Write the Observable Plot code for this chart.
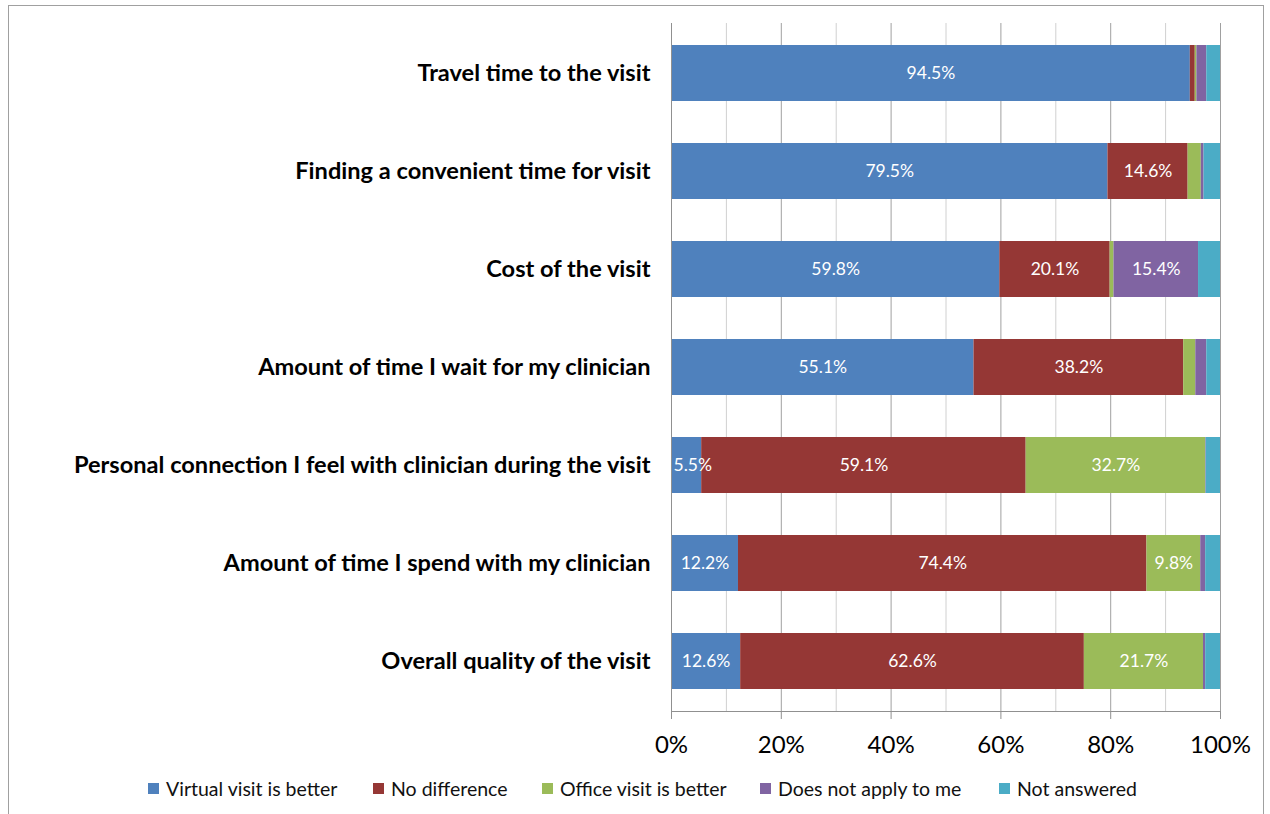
<!DOCTYPE html>
<html>
<head>
<meta charset="utf-8">
<script src="https://cdn.jsdelivr.net/npm/d3@7"></script>
<script src="https://cdn.jsdelivr.net/npm/@observablehq/plot@0.6"></script>
<style>
  html, body { margin: 0; padding: 0; background: #fff; }
  body { width: 1270px; height: 814px; position: relative; overflow: hidden; font-family: Lato, "Open Sans", sans-serif; }
  #frame { position: absolute; left: 8px; top: 5px; width: 1256px; height: 820px; border: 1px solid #a0a0a0; box-sizing: border-box; }
  #chart { position: absolute; left: 0; top: 0; }
  #legend { position: absolute; left: 0; top: 777px; width: 1270px; font-size: 19.5px; color: #111; }
  .item { display: flex; align-items: center; position: absolute; white-space: nowrap; }
  .sw { width: 11px; height: 11px; margin-right: 7px; }
</style>
</head>
<body>
<div id="frame"></div>
<div id="chart"></div>
<div id="legend"></div>
<script>
const categories = [
  "Travel time to the visit",
  "Finding a convenient time for visit",
  "Cost of the visit",
  "Amount of time I wait for my clinician",
  "Personal connection I feel with clinician during the visit",
  "Amount of time I spend with my clinician",
  "Overall quality of the visit"
];
const seriesNames = ["Virtual visit is better", "No difference", "Office visit is better", "Does not apply to me", "Not answered"];
const seriesColors = ["#4F81BD", "#953735", "#9BBB59", "#8064A2", "#4BACC6"];
const virtualBetter = [94.5, 79.5, 59.8, 55.1, 5.5, 12.2, 12.6];
const noDifference = [0.9, 14.6, 20.1, 38.2, 59.1, 74.4, 62.6];
const officeBetter = [0.3, 2.4, 0.7, 2.2, 32.7, 9.8, 21.7];
const doesNotApply = [1.8, 0.5, 15.4, 2.0, 0.1, 0.9, 0.4];
const notAnswered = [2.5, 3.0, 4.0, 2.5, 2.6, 2.7, 2.7];
// which segments carry a value label: "c" centred, "s" start-aligned (narrow segment)
const labelled = [
  ["c", "c", "c", "c", "s", "c", "c"],
  ["", "c", "c", "c", "c", "c", "c"],
  ["", "", "", "", "c", "c", "c"],
  ["", "", "c", "", "", "", ""],
  ["", "", "", "", "", "", ""]
];
const xTicks = [0, 20, 40, 60, 80, 100];
const gridMajor = [20, 40, 60, 80, 100];
const gridMinor = [10, 30, 50, 70, 90];

const seriesValues = [virtualBetter, noDifference, officeBetter, doesNotApply, notAnswered];
const rows = [];
seriesNames.forEach((s, si) => {
  categories.forEach((c, ci) => {
    rows.push({series: s, cat: c, value: seriesValues[si][ci], show: labelled[si][ci]});
  });
});
const fmt = d => d.value.toFixed(1) + "%";

const chart = Plot.plot({
  width: 1270,
  height: 765,
  marginLeft: 671,
  marginRight: 50,
  marginTop: 23,
  marginBottom: 54,
  style: {fontFamily: "Lato, 'Open Sans', sans-serif", background: "transparent", overflow: "visible"},
  x: {domain: [0, 100]},
  y: {domain: categories, paddingInner: 0.43, paddingOuter: 0.215},
  color: {domain: seriesNames, range: seriesColors},
  marks: [
    Plot.gridX(gridMinor, {stroke: "#d0d0d0", strokeOpacity: 1}),
    Plot.gridX(gridMajor, {stroke: "#a0a0a0", strokeOpacity: 1}),
    Plot.barX(rows, Plot.stackX({x: "value", y: "cat", fill: "series", order: seriesNames})),
    Plot.text(rows, Plot.stackX({x: "value", y: "cat", z: "series", order: seriesNames,
      text: d => d.show === "c" ? fmt(d) : "", fill: "white", fontSize: 17.5})),
    Plot.text(rows, Plot.stackX1({x: "value", y: "cat", z: "series", order: seriesNames,
      text: d => d.show === "s" ? fmt(d) : "", fill: "white", fontSize: 17.5, textAnchor: "start", dx: 2})),
    Plot.gridX([0], {stroke: "#909090", strokeOpacity: 1}),
    Plot.frame({anchor: "bottom", stroke: "#909090"}),
    Plot.axisX(xTicks, {tickFormat: d => d + "%", tickSize: 8, tickPadding: 16, fontSize: 24, stroke: "#909090", color: "#000", label: null}),
    Plot.axisY({tickSize: 0, tickPadding: 21, fontSize: 23.6, fontWeight: "bold", label: null, color: "#000"})
  ]
});
document.getElementById("chart").appendChild(chart);

const legend = document.getElementById("legend");
const legendX = [148, 373, 542, 760, 999];
seriesNames.forEach((s, i) => {
  const it = document.createElement("div");
  it.className = "item";
  it.style.left = legendX[i] + "px";
  const sw = document.createElement("div");
  sw.className = "sw";
  sw.style.background = seriesColors[i];
  const t = document.createElement("span");
  t.textContent = s;
  it.appendChild(sw);
  it.appendChild(t);
  legend.appendChild(it);
});
</script>
</body>
</html>
